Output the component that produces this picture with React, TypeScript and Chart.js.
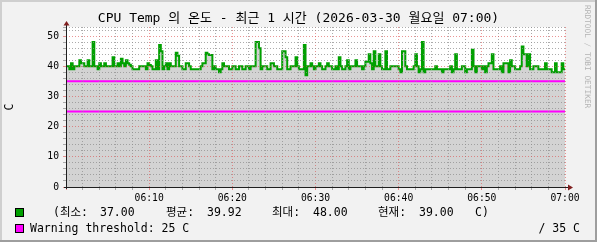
import React, { useEffect, useRef } from 'react';
import { Chart, registerables } from 'chart.js';

Chart.register(...registerables);

// ---- data ----
const TITLE = 'CPU Temp 의 온도 - 최근 1 시간 (2026-03-30 월요일 07:00)';
const Y_UNIT = 'C';
const SAMPLE_MINUTES = 0.2; // one sample every 12 s, 06:00 -> 07:00
const temps = [
  40, 40, 39, 41, 39, 40, 40, 40, 42, 41,
  41, 40, 40, 42, 40, 40, 48, 40, 40, 39,
  41, 40, 40, 41, 40, 40, 40, 40, 43, 40,
  40, 41, 40, 42.5, 41, 40, 42, 41, 40.5, 40,
  39, 39, 39, 39, 40, 40, 40, 40, 39, 41,
  40.4, 40, 39, 39, 42, 39, 47, 45, 39, 40,
  41, 39, 41, 40, 40, 40, 44.5, 43.5, 40, 40,
  39, 39, 41, 41, 40, 39, 39, 39, 39, 39,
  39, 40, 41, 41, 44.5, 44, 43.7, 43.7, 39, 40,
  39, 39, 38, 39, 41, 40, 40, 40, 39, 39,
  40, 40, 39, 39, 40, 40, 39, 39, 40, 40,
  39, 40, 40, 40, 48, 48, 46, 39, 40, 40,
  40, 39, 39, 41, 41, 40, 40, 39, 39, 39,
  45, 45, 43, 39, 39, 40, 40, 40, 43, 40,
  39, 39, 39, 47, 37, 40, 40, 41, 40, 39,
  40, 40, 41, 40, 39, 39, 40, 41, 40, 40,
  39, 39, 40, 39, 43, 40, 39, 39, 40, 42,
  39, 40, 40, 40, 42, 40, 40, 40, 39, 40,
  41.5, 41.5, 44, 41, 39, 45, 40, 40, 44, 40,
  39, 39, 45, 39, 39, 40, 40, 40, 40, 40,
  39, 38, 45, 45, 40, 39, 39, 39, 39, 40,
  44, 40, 38, 39, 48, 38, 39, 39, 39, 39,
  39, 39, 40, 39, 39, 39, 38, 39, 39, 39,
  39, 40, 38, 39, 44, 39, 39, 39, 40, 40,
  38, 39, 39, 39, 45.5, 40, 38, 40, 40, 40,
  39, 40, 38, 40, 41, 41, 44, 39, 39, 39,
  39, 40, 38, 41, 41, 41, 38, 42, 40, 40,
  39, 39, 39, 40, 46.5, 44, 44, 40, 44, 39,
  39, 40, 40, 40, 39, 39, 39, 39, 41, 39,
  39, 39, 38, 38, 41, 38, 38, 38, 41, 39,
  39,
];
const warningThreshold = 25;
const criticalThreshold = 35;
const X_MIN = 0;
const X_MAX = 60;
const Y_MIN = 0;
const Y_MAX = 53;
const xTickLabels: Record<number, string> = {
  10: '06:10', 20: '06:20', 30: '06:30', 40: '06:40', 50: '06:50', 60: '07:00',
};
const statLabels = ['(최소:', '평균:', '최대:', '현재:'];
const statValues = ['37.00', '39.92', '48.00', '39.00'];
const statUnit = 'C)';
const warningLabel = 'Warning threshold: 25 C';
const criticalLabel = '/ 35 C';
const WATERMARK = 'RRDTOOL / TOBI OETIKER';

// ---- style ----
const MONO = '"DejaVu Sans Mono", "Noto Sans CJK KR", monospace';
const GREEN = '#00a000';
const MAGENTA = '#ff00ff';
const AREA = '#d3d3d3';
const GRID = 'rgba(143,143,143,0.75)';
const MGRID = 'rgba(222,79,79,0.6)';

const rrdPlugin = {
  id: 'rrdDecor',
  beforeDraw(chart: any) {
    const { ctx, width, height, chartArea: a } = chart;
    ctx.save();
    ctx.fillStyle = '#f2f2f2';
    ctx.fillRect(0, 0, width, height);
    ctx.fillStyle = '#cfcfcf';
    ctx.fillRect(0, 0, width, 2);
    ctx.fillRect(0, 0, 2, height);
    ctx.fillStyle = '#9e9e9e';
    ctx.fillRect(0, height - 2, width, 2);
    ctx.fillRect(width - 2, 0, 2, height);
    ctx.fillStyle = '#ffffff';
    ctx.fillRect(a.left, a.top, a.right - a.left, a.bottom - a.top);
    ctx.restore();
  },
  afterDraw(chart: any) {
    const { ctx, width, chartArea: a } = chart;
    const xs = chart.scales.x;
    const ys = chart.scales.y;
    const y0 = Math.round(ys.getPixelForValue(Y_MIN)) + 0.5;
    const x0 = Math.round(xs.getPixelForValue(X_MIN)) + 0.5;
    ctx.save();
    // axes
    ctx.strokeStyle = '#1f1f1f';
    ctx.lineWidth = 1;
    ctx.beginPath();
    ctx.moveTo(a.left - 2, y0);
    ctx.lineTo(a.right + 4, y0);
    ctx.moveTo(x0, a.bottom + 2);
    ctx.lineTo(x0, a.top - 3);
    ctx.stroke();
    // arrows
    ctx.fillStyle = '#801f1f';
    ctx.beginPath();
    ctx.moveTo(a.right + 8, y0);
    ctx.lineTo(a.right + 3, y0 - 3);
    ctx.lineTo(a.right + 3, y0 + 3);
    ctx.closePath();
    ctx.fill();
    ctx.beginPath();
    ctx.moveTo(x0, a.top - 6);
    ctx.lineTo(x0 - 3, a.top - 1.5);
    ctx.lineTo(x0 + 3, a.top - 1.5);
    ctx.closePath();
    ctx.fill();

    // title
    ctx.fillStyle = '#000';
    ctx.font = `13px ${MONO}`;
    ctx.textAlign = 'center';
    ctx.textBaseline = 'middle';
    ctx.fillText(TITLE, width / 2, 19);

    // y unit
    ctx.save();
    ctx.translate(10, (a.top + a.bottom) / 2);
    ctx.rotate(-Math.PI / 2);
    ctx.font = `11.5px ${MONO}`;
    ctx.fillText(Y_UNIT, 0, 0);
    ctx.restore();

    // legend
    ctx.textAlign = 'left';
    ctx.font = `11.5px ${MONO}`;
    const row1 = 213;
    const row2 = 229;
    ctx.fillStyle = GREEN;
    ctx.fillRect(15, 208, 9, 9);
    ctx.strokeStyle = '#000';
    ctx.strokeRect(15.5, 208.5, 8, 8);
    ctx.fillStyle = MAGENTA;
    ctx.fillRect(15, 224, 9, 9);
    ctx.strokeRect(15.5, 224.5, 8, 8);
    ctx.fillStyle = '#000';
    const labelX = [53, 166, 272, 378];
    const valueX = [100, 207, 313, 419];
    statLabels.forEach((t, i) => ctx.fillText(t, labelX[i], row1));
    statValues.forEach((t, i) => ctx.fillText(t, valueX[i], row1));
    ctx.fillText(statUnit, 475, row1);
    ctx.fillText(warningLabel, 30, row2);
    ctx.textAlign = 'right';
    ctx.fillText(criticalLabel, 580, row2);

    // watermark
    ctx.save();
    ctx.translate(587, 5);
    ctx.rotate(Math.PI / 2);
    ctx.textAlign = 'left';
    ctx.textBaseline = 'middle';
    ctx.font = `7.8px ${MONO}`;
    ctx.fillStyle = '#b4b4b4';
    ctx.fillText(WATERMARK, 0, 0);
    ctx.restore();

    ctx.restore();
  },
};

const gridColor = (ctx: any) =>
  ctx.tick && Math.abs(ctx.tick.value % 10) < 1e-9 ? MGRID : GRID;

export default function App() {
  const ref = useRef<HTMLCanvasElement>(null);
  useEffect(() => {
    const canvas = ref.current!;
    const chart = new Chart(canvas, {
      type: 'line',
      data: {
        datasets: [
          {
            label: 'crit',
            data: [{ x: X_MIN, y: criticalThreshold }, { x: X_MAX, y: criticalThreshold }],
            borderColor: MAGENTA,
            borderWidth: 2,
            pointRadius: 0,
            fill: false,
          },
          {
            label: 'warn',
            data: [{ x: X_MIN, y: warningThreshold }, { x: X_MAX, y: warningThreshold }],
            borderColor: MAGENTA,
            borderWidth: 2,
            pointRadius: 0,
            fill: false,
          },
          {
            label: 'temp',
            data: temps.map((v, i) => ({ x: i * SAMPLE_MINUTES, y: v })),
            stepped: true,
            borderColor: GREEN,
            borderWidth: 2,
            backgroundColor: AREA,
            fill: 'origin',
            pointRadius: 0,
          },
        ],
      } as any,
      options: {
        responsive: false,
        animation: false,
        devicePixelRatio: 1,
        layout: { padding: { left: 0, top: 27, right: 32, bottom: 0 } },
        plugins: {
          legend: { display: false },
          tooltip: { enabled: false },
          title: { display: false },
        },
        scales: {
          x: {
            type: 'linear',
            min: X_MIN,
            max: X_MAX,
            bounds: 'data',
            afterFit: (s: any) => { s.height = 55; },
            ticks: {
              stepSize: 2,
              autoSkip: false,
              maxRotation: 0,
              includeBounds: false,
              padding: 3,
              color: '#000',
              font: { family: MONO, size: 9.7 },
              callback: (v: any) => xTickLabels[v] ?? '',
            },
            grid: {
              z: 1,
              color: gridColor,
              lineWidth: 1,
              drawTicks: true,
              tickLength: 3,
              tickColor: gridColor,
              tickBorderDash: [],
            },
            border: { display: false, dash: [1, 2] },
          },
          y: {
            type: 'linear',
            min: Y_MIN,
            max: Y_MAX,
            bounds: 'data',
            afterFit: (s: any) => { s.width = 66; },
            ticks: {
              stepSize: 2,
              autoSkip: false,
              includeBounds: false,
              padding: 4,
              color: '#000',
              font: { family: MONO, size: 9.7 },
              callback: (v: any) => (v % 10 === 0 ? String(v) : ''),
            },
            grid: {
              z: 1,
              color: gridColor,
              lineWidth: 1,
              drawTicks: true,
              tickLength: 3,
              tickColor: gridColor,
              tickBorderDash: [],
            },
            border: { display: false, dash: [1, 2] },
          },
        },
      } as any,
      plugins: [rrdPlugin],
    });
    return () => chart.destroy();
  }, []);
  return (
    <div style={{ position: 'fixed', left: 0, top: 0, width: 597, height: 242 }}>
      <canvas ref={ref} width={597} height={242} style={{ display: 'block' }} />
    </div>
  );
}
